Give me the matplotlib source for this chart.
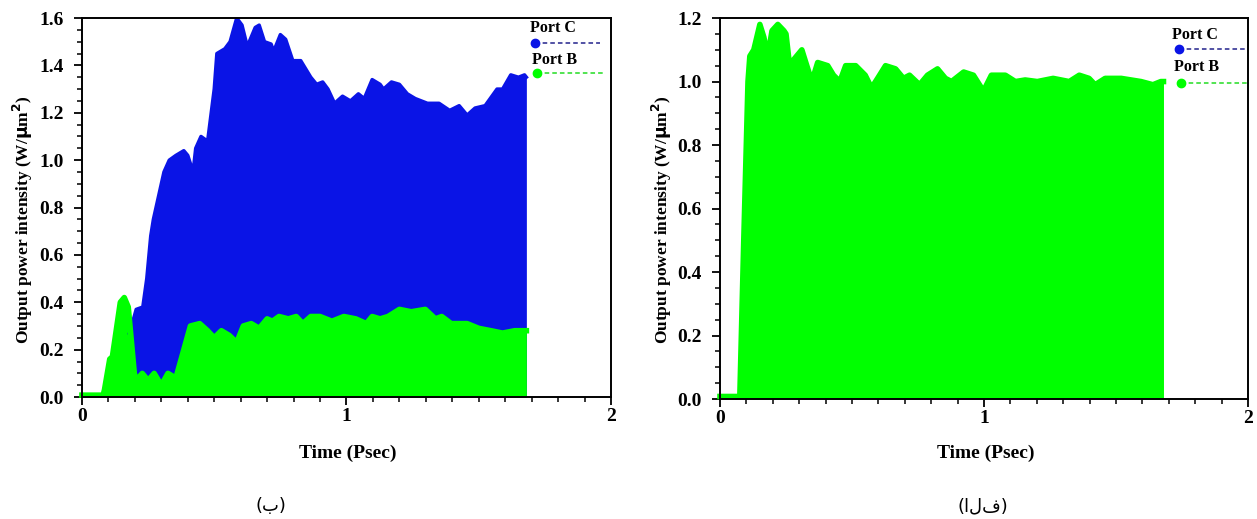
import matplotlib
matplotlib.use("Agg")
import matplotlib.pyplot as plt
from matplotlib.ticker import MultipleLocator

# ---- data (envelope of the fast-oscillating output) ----
# panel (b): Port C (blue) envelope
tC_b = [0.18, 0.205, 0.23, 0.245, 0.26, 0.27, 0.29, 0.31, 0.33, 0.355, 0.385,
        0.40, 0.42, 0.43, 0.45, 0.475, 0.50, 0.51, 0.54, 0.56, 0.585, 0.605,
        0.625, 0.655, 0.67, 0.69, 0.715, 0.725, 0.75, 0.77, 0.797, 0.827,
        0.865, 0.887, 0.91, 0.93, 0.955, 0.985, 1.015, 1.045, 1.067, 1.097,
        1.127, 1.14, 1.17, 1.20, 1.23, 1.26, 1.306, 1.35, 1.39, 1.426, 1.456,
        1.486, 1.524, 1.569, 1.59, 1.621, 1.65, 1.673, 1.68]
pC_b = [0.27, 0.37, 0.38, 0.50, 0.68, 0.75, 0.85, 0.95, 1.00, 1.02, 1.04,
        1.02, 0.95, 1.05, 1.10, 1.08, 1.30, 1.45, 1.47, 1.50, 1.60, 1.57,
        1.48, 1.56, 1.57, 1.50, 1.49, 1.46, 1.53, 1.51, 1.42, 1.42,
        1.35, 1.32, 1.33, 1.30, 1.24, 1.27, 1.25, 1.28, 1.26, 1.34,
        1.32, 1.30, 1.33, 1.32, 1.28, 1.26, 1.24, 1.24, 1.21, 1.23, 1.19,
        1.22, 1.23, 1.30, 1.30, 1.36, 1.35, 1.36, 1.35]

# panel (b): Port B (green) envelope
tB_b = [0.0, 0.08, 0.085, 0.105, 0.115, 0.145, 0.16, 0.175, 0.198, 0.205,
        0.228, 0.25, 0.273, 0.30, 0.325, 0.355, 0.385, 0.41, 0.445, 0.475,
        0.50, 0.527, 0.557, 0.585, 0.61, 0.64, 0.67, 0.70, 0.72, 0.745, 0.78,
        0.81, 0.835, 0.865, 0.90, 0.945, 0.99, 1.035, 1.075, 1.097, 1.127,
        1.157, 1.20, 1.245, 1.298, 1.336, 1.36, 1.396, 1.456, 1.50, 1.546,
        1.59, 1.636, 1.68]
pB_b = [0.008, 0.008, 0.03, 0.16, 0.17, 0.40, 0.42, 0.38, 0.10, 0.07,
        0.10, 0.07, 0.10, 0.05, 0.10, 0.08, 0.20, 0.30, 0.31, 0.28,
        0.25, 0.28, 0.26, 0.23, 0.30, 0.31, 0.29, 0.33, 0.32, 0.34, 0.33,
        0.34, 0.31, 0.34, 0.34, 0.32, 0.34, 0.33, 0.31, 0.34, 0.33,
        0.34, 0.37, 0.36, 0.37, 0.33, 0.34, 0.31, 0.31, 0.29, 0.28,
        0.27, 0.28, 0.28]

# panel (alef): Port B (green) envelope
tB_a = [0.0, 0.075, 0.09, 0.106, 0.113, 0.128, 0.151, 0.166, 0.181, 0.197,
        0.219, 0.242, 0.25, 0.265, 0.28, 0.31, 0.325, 0.348, 0.37, 0.408,
        0.43, 0.454, 0.476, 0.514, 0.55, 0.574, 0.597, 0.627, 0.665, 0.695,
        0.718, 0.756, 0.786, 0.824, 0.854, 0.877, 0.923, 0.96, 0.998, 1.028,
        1.081, 1.119, 1.156, 1.202, 1.262, 1.323, 1.361, 1.398, 1.421, 1.459,
        1.52, 1.595, 1.64, 1.67, 1.68]
pB_a = [0.008, 0.008, 0.50, 1.00, 1.08, 1.10, 1.18, 1.14, 1.08, 1.16,
        1.18, 1.16, 1.15, 1.04, 1.07, 1.10, 1.06, 1.00, 1.06, 1.05,
        1.02, 1.00, 1.05, 1.05, 1.02, 0.98, 1.01, 1.05, 1.04, 1.01,
        1.02, 0.99, 1.02, 1.04, 1.01, 1.00, 1.03, 1.02, 0.97, 1.02,
        1.02, 1.00, 1.005, 1.00, 1.01, 1.00, 1.02, 1.01, 0.99, 1.01,
        1.01, 1.00, 0.99, 1.00, 1.00]

captions = ["(ب)", "(الف)"]
legend_labels = ["Port C", "Port B"]

BLUE = "#0a14e6"
GREEN = "#00ff00"
LEG_LINE = ["#22228c", "#22dd22"]

plt.rcParams["font.family"] = ["Liberation Serif", "DejaVu Serif"]
plt.rcParams["font.weight"] = "bold"

fig = plt.figure(figsize=(12.57, 5.19), dpi=100)
ax1 = fig.add_axes([0.0652, 0.235, 0.4209, 0.7303])
ax2 = fig.add_axes([0.5728, 0.2312, 0.4200, 0.7340])


def style_axes(ax, ymax, xlab_y, ylab_x, ylab_y):
    ax.set_xlim(0, 2)
    ax.set_ylim(0, ymax)
    ax.xaxis.set_major_locator(MultipleLocator(1))
    ax.xaxis.set_minor_locator(MultipleLocator(0.1))
    ax.yaxis.set_major_locator(MultipleLocator(0.2))
    ax.yaxis.set_minor_locator(MultipleLocator(0.05))
    ax.set_xticklabels(["%d" % v for v in ax.get_xticks()])
    ax.set_yticklabels(["%.1f" % v for v in ax.get_yticks()])
    ax.tick_params(which="major", direction="out", length=6, width=1.3,
                   labelsize=14)
    ax.tick_params(axis="x", which="major", pad=2)
    ax.tick_params(axis="y", which="major", pad=7)
    ax.tick_params(which="minor", direction="out", length=3.5, width=1.1)
    for s in ax.spines.values():
        s.set_linewidth(1.4)
    ax.set_xlabel("Time (Psec)", fontsize=14, fontweight="bold")
    ax.set_ylabel("Output power intensity (W/$\\mathbf{\\mu}$m$^\\mathbf{2}$)",
                  fontsize=12.5, fontweight="bold")
    ax.xaxis.set_label_coords(0.503, xlab_y)
    ax.yaxis.set_label_coords(ylab_x, ylab_y)


def draw_legend(ax, pos):
    # pos: list of (text_x, text_y, marker_x, marker_y, line_end) in axes fraction
    colors = [BLUE, GREEN]
    for lab, col, lcol, (tx, ty, mx, my, le) in zip(legend_labels, colors,
                                                   LEG_LINE, pos):
        ax.text(tx, ty, lab, transform=ax.transAxes, ha="center", va="center",
                fontsize=11.5, fontweight="bold")
        ax.plot([mx, le], [my, my], transform=ax.transAxes, color=lcol,
                ls=(0, (3, 2)), lw=1.1, clip_on=False)
        ax.plot([mx], [my], transform=ax.transAxes, marker="o", ms=6,
                color=col, clip_on=False)


# panel (b)
ax1.fill_between(tC_b, 0, pC_b, color=BLUE, lw=0)
ax1.plot(tC_b, pC_b, color=BLUE, lw=2.5, solid_joinstyle="round")
ax1.fill_between(tB_b, 0, pB_b, color=GREEN, lw=0)
ax1.plot(tB_b, pB_b, color=GREEN, lw=4, clip_on=False, solid_joinstyle="round")
style_axes(ax1, 1.6, -0.127, -0.088, 0.467)
draw_legend(ax1, [(0.89, 0.974, 0.856, 0.934, 0.979),
                  (0.894, 0.889, 0.860, 0.855, 0.985)])

# panel (alef)
ax2.fill_between(tB_a, 0, pB_a, color=GREEN, lw=0)
ax2.plot(tB_a, pB_a, color=GREEN, lw=4, clip_on=False, solid_joinstyle="round")
style_axes(ax2, 1.2, -0.121, -0.087, 0.47)
draw_legend(ax2, [(0.90, 0.955, 0.869, 0.919, 0.994),
                  (0.903, 0.871, 0.873, 0.829, 1.0)])

fig.text(0.2156, 0.025, captions[0], ha="center", va="center",
         fontsize=13, fontweight="normal", family=["DejaVu Sans"])
fig.text(0.782, 0.025, captions[1], ha="center", va="center",
         fontsize=13, fontweight="normal", family=["DejaVu Sans"])

fig.savefig("out.png", dpi=100)
